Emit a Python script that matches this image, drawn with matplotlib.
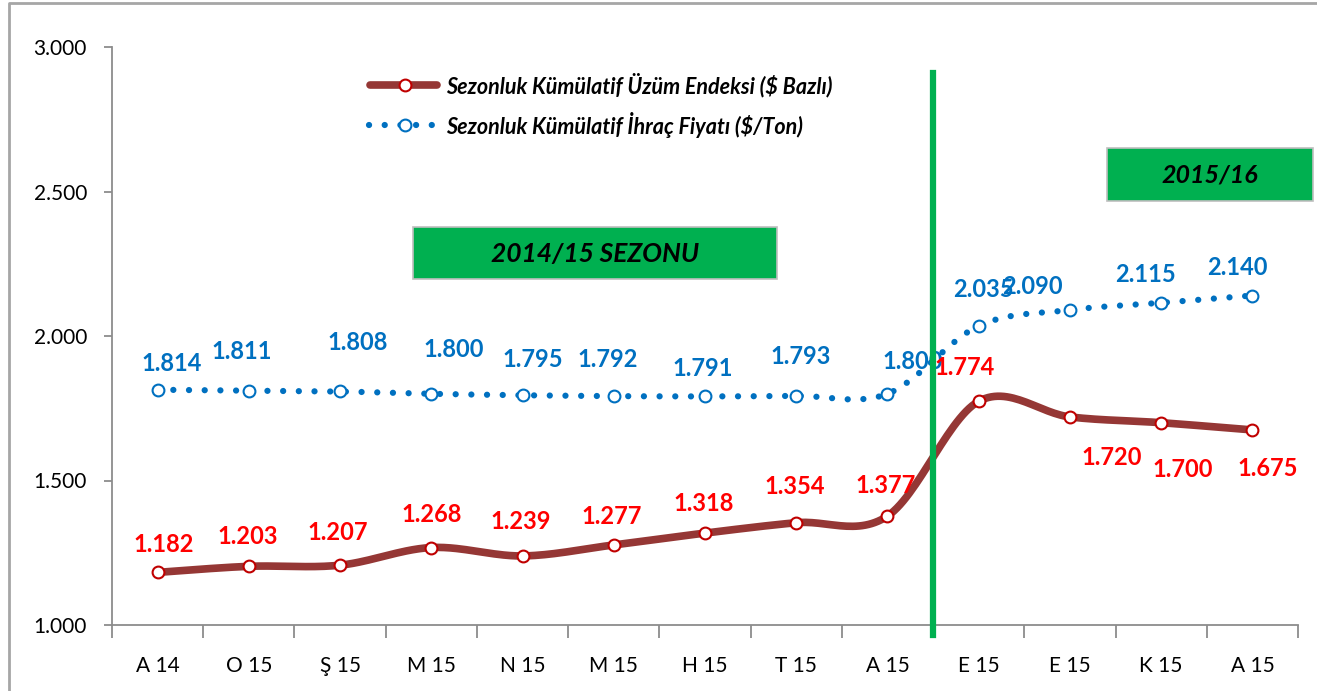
import numpy as np
import matplotlib
matplotlib.use('Agg')
import matplotlib.pyplot as plt
from matplotlib.lines import Line2D
from matplotlib.patches import Rectangle
from matplotlib.ticker import FuncFormatter

plt.rcParams['font.family'] = ['Lato', 'DejaVu Sans']

months = ['A 14', 'O 15', 'Ş 15', 'M 15', 'N 15', 'M 15', 'H 15', 'T 15', 'A 15',
          'E 15', 'E 15', 'K 15', 'A 15']
uzum = [1182, 1203, 1207, 1268, 1239, 1277, 1318, 1354, 1377, 1774, 1720, 1700, 1675]
ihrac = [1814, 1811, 1808, 1800, 1795, 1792, 1791, 1793, 1800, 2035, 2090, 2115, 2140]
uzum_name = 'Sezonluk Kümülatif Üzüm Endeksi ($ Bazlı)'
ihrac_name = 'Sezonluk Kümülatif İhraç Fiyatı ($/Ton)'
season_1 = '2014/15 SEZONU'
season_2 = '2015/16'

# label offsets in pixels (dx, dy), hand placed like in the excel chart
uzum_off = [(6, 28), (-1, 30), (-2, 33), (0, 33), (-2, 34), (-2, 28), (-1, 30), (-1, 36),
            (-2, 31), (-14, 34), (42, -41), (22, -47), (15, -39)]
ihrac_off = [(14, 26), (-7, 39), (18, 49), (22, 44), (10, 36), (-6, 37), (-2, 28), (4, 39),
             (25, 32), (5, 36), (-37, 23), (-16, 28), (-15, 28)]

RED_LINE = '#953735'
RED_EDGE = '#C00000'
BLUE = '#0070C0'
GREEN = '#00B050'
GRAY = '#8C8C8C'
DOTS = (0, (0.01, 2.5))


def smooth(xs, ys, sx, sy, n=30):
    # excel-like smoothed line (bezier through the points), done in pixel-ish space
    P = np.column_stack([np.asarray(xs, float) * sx, np.asarray(ys, float) * sy])
    out = []
    for i in range(len(P) - 1):
        p0 = P[i - 1] if i > 0 else P[i]
        p1, p2 = P[i], P[i + 1]
        p3 = P[i + 2] if i + 2 < len(P) else P[i + 1]
        c1 = p1 + (p2 - p0) / 6
        c2 = p2 - (p3 - p1) / 6
        t = np.linspace(0, 1, n)[:, None]
        seg = (1 - t) ** 3 * p1 + 3 * (1 - t) ** 2 * t * c1 + 3 * (1 - t) * t ** 2 * c2 + t ** 3 * p2
        out.append(seg if i == 0 else seg[1:])
    out = np.vstack(out)
    return out[:, 0] / sx, out[:, 1] / sy


fig = plt.figure(figsize=(13.17, 6.91), dpi=100)
ax = fig.add_axes([112 / 1317, 1 - 625 / 691, 1186 / 1317, 578 / 691])

x = np.arange(len(months))
sx, sy = 91.2, 578 / 2000

# blue dotted series
bx, by = smooth(x, ihrac, sx, sy)
ax.plot(bx, by, color=BLUE, lw=4.5, linestyle=DOTS, dash_capstyle='round', zorder=3)
ax.plot(x, ihrac, 'o', ms=8.5, mfc='white', mec=BLUE, mew=1.5, zorder=4)

# red series
rx, ry = smooth(x, uzum, sx, sy)
ax.plot(rx, ry, color=RED_LINE, lw=5.5, solid_capstyle='round', zorder=3)
ax.plot(x, uzum, 'o', ms=8.5, mfc='white', mec=RED_EDGE, mew=1.5, zorder=4)

for i, v in enumerate(ihrac):
    ax.annotate(f'{v / 1000:.3f}', (x[i], v), xytext=ihrac_off[i], textcoords='offset pixels',
                ha='center', va='center', color=BLUE, fontsize=17, fontweight='bold', zorder=5)
for i, v in enumerate(uzum):
    ax.annotate(f'{v / 1000:.3f}', (x[i], v), xytext=uzum_off[i], textcoords='offset pixels',
                ha='center', va='center', color='red', fontsize=17, fontweight='bold', zorder=5)

# season split line
ax.plot([8.5, 8.5], [965, 2910], color=GREEN, lw=4.5, clip_on=False, zorder=6)

ax.set_xlim(-0.5, 12.5)
ax.set_ylim(1000, 3000)
ax.set_yticks(np.arange(1000, 3001, 500))
ax.yaxis.set_major_formatter(FuncFormatter(lambda v, p: f'{v / 1000:.3f}'))
ax.set_xticks(x)
ax.set_xticklabels(months)
ax.set_xticks(np.arange(-0.5, 13, 1), minor=True)
ax.tick_params(axis='x', which='major', length=0, pad=22, labelsize=15)
ax.tick_params(axis='x', which='minor', length=9, color=GRAY, width=1.3, direction='out')
ax.tick_params(axis='y', length=6, color=GRAY, width=1.3, labelsize=15, pad=12)
for s in ['top', 'right']:
    ax.spines[s].set_visible(False)
for s in ['left', 'bottom']:
    ax.spines[s].set_color(GRAY)
    ax.spines[s].set_linewidth(1.3)

# season boxes
fig.patches.append(Rectangle((413 / 1317, 1 - 279 / 691), 364 / 1317, 52 / 691, transform=fig.transFigure,
                             facecolor=GREEN, edgecolor='#BFBFBF', lw=1.2))
fig.text(595 / 1317, 1 - 254 / 691, season_1, ha='center', va='center', fontsize=19,
         fontweight='bold', style='italic')
fig.patches.append(Rectangle((1107 / 1317, 1 - 201 / 691), 206 / 1317, 53 / 691, transform=fig.transFigure,
                             facecolor=GREEN, edgecolor='#BFBFBF', lw=1.2))
fig.text(1210 / 1317, 1 - 175 / 691, season_2, ha='center', va='center', fontsize=18,
         fontweight='bold', style='italic')

# legend, drawn by hand
t = fig.transFigure
fig.add_artist(Line2D([370 / 1317, 437 / 1317], [1 - 85 / 691] * 2, transform=t, color=RED_LINE, lw=5.5,
                      solid_capstyle='round'))
fig.add_artist(Line2D([405 / 1317], [1 - 85 / 691], transform=t, marker='o', ms=8.5, mfc='white',
                      mec=RED_EDGE, mew=1.5))
fig.add_artist(Line2D([369 / 1317, 436 / 1317], [1 - 125 / 691] * 2, transform=t, color=BLUE, lw=4.5,
                      linestyle=DOTS, dash_capstyle='round'))
fig.add_artist(Line2D([405 / 1317], [1 - 125 / 691], transform=t, marker='o', ms=8.5, mfc='white',
                      mec=BLUE, mew=1.5))
fig.text(446 / 1317, 1 - 85 / 691, uzum_name, ha='left', va='center', fontsize=15.5,
         fontweight='bold', style='italic')
fig.text(446 / 1317, 1 - 125 / 691, ihrac_name, ha='left', va='center', fontsize=15.5,
         fontweight='bold', style='italic')

# outer frame of the chart area
fig.add_artist(Line2D([9 / 1317, 9 / 1317, 1], [0, 1 - 3 / 691, 1 - 3 / 691], transform=t,
                      color='#A6A6A6', lw=2))

fig.savefig('out.png', dpi=100)
